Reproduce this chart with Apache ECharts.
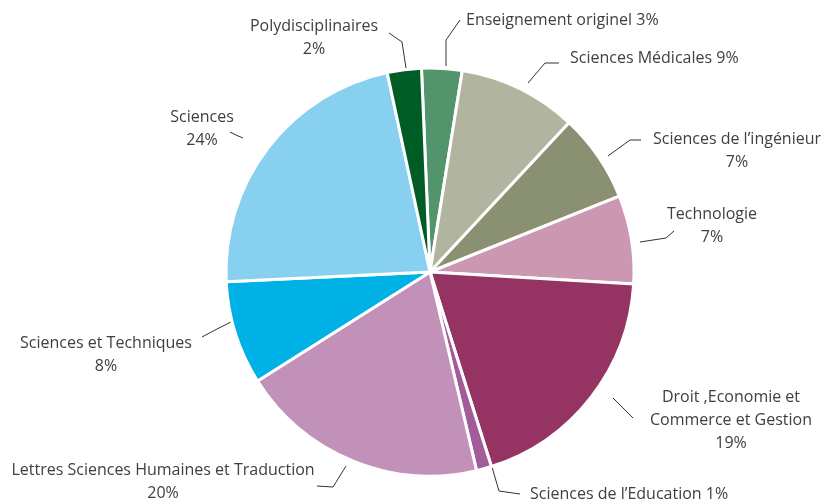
<!DOCTYPE html>
<html>
<head>
<meta charset="utf-8">
<script src="https://cdn.jsdelivr.net/npm/echarts@6/dist/echarts.min.js"></script>
<style>html,body{margin:0;padding:0;background:#fff}#c{width:828px;height:504px}</style>
</head>
<body>
<div id="c"></div>
<script>
// Data (clockwise from top)
var categories = ['Enseignement originel', 'Sciences Médicales', 'Sciences de l’ingénieur', 'Technologie',
  'Droit ,Economie et Commerce et Gestion', 'Sciences de l’Education', 'Lettres Sciences Humaines et Traduction',
  'Sciences et Techniques', 'Sciences', 'Polydisciplinaires'];
var values = [3.2, 9.4, 7.0, 7.0, 19.2, 1.2, 19.7, 8.2, 22.4, 2.7];
var percentLabels = ['3%', '9%', '7%', '7%', '19%', '1%', '20%', '8%', '24%', '2%'];

// Styling / layout (not data)
var colors = ['#52956C', '#B1B5A0', '#899172', '#CB97B1', '#953363', '#A25C99', '#C291BA', '#00B1E6', '#88D0F0', '#005C25'];
var labelText = [
  'Enseignement originel 3%',
  'Sciences Médicales 9%',
  'Sciences de l’ingénieur\n7%',
  'Technologie\n7%',
  'Droit ,Economie et\nCommerce et Gestion\n19%',
  'Sciences de l’Education 1%',
  'Lettres Sciences Humaines et Traduction\n20%',
  'Sciences et Techniques\n8%',
  'Sciences\n24%',
  'Polydisciplinaires\n2%'
];
var labelPos = [
  {x: 466, y: 20, align: 'left', pts: [[446, 66], [446, 40], [460, 20]]},
  {x: 570, y: 58, align: 'left', pts: [[528, 83], [545, 63], [559, 63]]},
  {x: 737, y: 151, align: 'center', pts: [[608, 156], [630, 140], [641, 140]]},
  {x: 712, y: 226, align: 'center', pts: [[640, 242], [666, 238], [674, 231]]},
  {x: 731, y: 420, align: 'center', pts: [[613, 398], [623, 408], [633, 418]]},
  {x: 530, y: 494, align: 'left', pts: [[492, 467], [499, 491], [520, 494]]},
  {x: 163, y: 482, align: 'center', pts: [[346, 466], [333, 487], [317, 486]]},
  {x: 106, y: 355, align: 'center', pts: [[233, 321], [217, 329], [202, 337]]},
  {x: 202, y: 129, align: 'center', pts: [[230, 132], [236, 135], [243, 138]]},
  {x: 314, y: 38, align: 'center', pts: [[389, 33], [402, 42], [406, 68]]}
];

var data = categories.map(function (c, i) {
  return {name: c, value: values[i], itemStyle: {color: colors[i]}};
});

var chart = echarts.init(document.getElementById('c'), null, {renderer: 'canvas'});
chart.setOption({
  animation: false,
  series: [{
    type: 'pie',
    center: [430, 272],
    radius: [0, 204],
    startAngle: 92.4,
    clockwise: true,
    data: data,
    itemStyle: {borderColor: '#ffffff', borderWidth: 3},
    label: {
      show: true,
      position: 'outside',
      alignTo: 'none',
      overflow: 'none',
      formatter: function (p) { return labelText[p.dataIndex]; },
      fontFamily: 'Open Sans',
      fontSize: 16,
      lineHeight: 23,
      color: '#404040'
    },
    labelLine: {show: true, lineStyle: {color: '#333', width: 1}},
    labelLayout: function (p) {
      var l = labelPos[p.dataIndex];
      return {x: l.x, y: l.y, align: l.align, verticalAlign: 'middle', labelLinePoints: l.pts, hideOverlap: false, moveOverlap: null, width: 400};
    }
  }]
});
</script>
</body>
</html>
